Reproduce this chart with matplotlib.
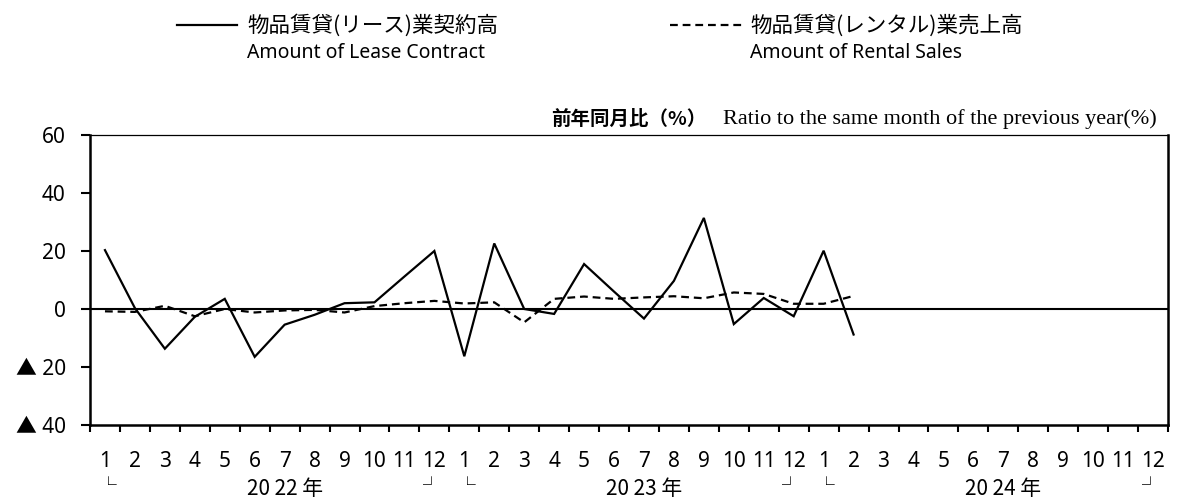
import matplotlib
matplotlib.use("Agg")
import matplotlib.pyplot as plt
from matplotlib.lines import Line2D
import numpy as np

# month labels, 3 years
months = [str(m) for m in range(1, 13)] * 3
years = ["20 22 年", "20 23 年", "20 24 年"]

# 前年同月比 (%), Jan 2022 .. Feb 2024
lease = [20.3, 0.3, -13.7, -2.7, 3.5, -16.5, -5.4, -2.0, 2.0, 2.3, 11.2, 20.0,
         -16.3, 22.6, 0.0, -1.7, 15.5, 6.0, -3.3, 9.7, 31.4, -5.2, 3.8, -2.5,
         20.1, -8.8]
rental = [-0.8, -1.0, 1.1, -2.5, 0.0, -1.2, -0.5, -0.3, -1.2, 1.0, 2.0, 2.8,
          1.9, 2.3, -4.6, 3.5, 4.3, 3.5, 4.0, 4.4, 3.7, 5.7, 5.2, 1.8,
          1.8, 4.5]

yticks = [-40, -20, 0, 20, 40, 60]
ylabels = ["▲ 40", "▲ 20", "0", "20", "40", "60"]

W, H = 1177, 500
jp = ["Noto Sans CJK JP", "DejaVu Sans"]
num = ["Noto Sans", "Noto Sans CJK JP", "DejaVu Sans"]

fig = plt.figure(figsize=(W / 100, H / 100), dpi=100)
ax = fig.add_axes([90 / W, 1 - 425 / H, (1168 - 90) / W, (425 - 135) / H])

x = np.arange(len(lease)) + 0.5
ax.plot(x, lease, color="black", lw=1.6, solid_joinstyle="miter")
ax.plot(np.arange(len(rental)) + 0.5, rental, color="black", lw=1.6,
        dashes=(3.5, 2.2))
ax.axhline(0, color="black", lw=1.5)

ax.set_xlim(0, 36)
ax.set_ylim(-40, 60)
ax.set_yticks(yticks)
ax.set_yticklabels(ylabels, family=num, fontsize=15)
ax.tick_params(axis="y", direction="out", length=6.5, width=1.5, pad=11)

ax.set_xticks(np.arange(0, 37))
ax.set_xticklabels([])
ax.set_xticks(np.arange(36) + 0.5, minor=True)
ax.set_xticklabels(months, minor=True, family=num, fontsize=15)
ax.tick_params(axis="x", which="major", direction="out", length=5, width=1.5)
ax.tick_params(axis="x", which="minor", length=0, pad=19)

for s in ["left", "bottom", "right"]:
    ax.spines[s].set_linewidth(1.8)
ax.spines["top"].set_linewidth(0.9)

# year brackets under the month labels
xt = ax.get_xaxis_transform()
for k, yr in enumerate(years):
    ax.text(k * 12 + 0.6, -0.212, "└", transform=xt, ha="center", va="center",
            fontsize=12, family=jp)
    ax.text(k * 12 + 11.4, -0.212, "┘", transform=xt, ha="center", va="center",
            fontsize=12, family=jp)
    ax.text(k * 12 + 6.5, -0.222, yr, transform=xt, ha="center", va="center",
            fontsize=15, family=jp)

# subtitle
fig.text(1157 / W, 1 - 119 / H, "Ratio to the same month of the previous year(%)",
         ha="right", va="center", fontsize=16, family="Liberation Serif")
fig.text(706 / W, 1 - 119 / H, "前年同月比（%）", ha="right", va="center",
         fontsize=14, family=jp, fontweight="bold")

# legend
fig.add_artist(Line2D([177 / W, 237 / W], [1 - 25 / H] * 2, color="black", lw=1.6))
fig.text(247 / W, 1 - 25 / H, "物品賃貸(リース)業契約高", ha="left", va="center",
         fontsize=15.5, family=jp)
fig.text(247 / W, 1 - 53 / H, "Amount of Lease Contract", ha="left", va="center",
         fontsize=14, family=num)
fig.add_artist(Line2D([670 / W, 742 / W], [1 - 25 / H] * 2, color="black", lw=1.6,
                      dashes=(3.5, 2.2)))
fig.text(750 / W, 1 - 25 / H, "物品賃貸(レンタル)業売上高", ha="left", va="center",
         fontsize=15.5, family=jp)
fig.text(750 / W, 1 - 53 / H, "Amount of Rental Sales", ha="left", va="center",
         fontsize=14, family=num)

fig.savefig("out.png", dpi=100)
